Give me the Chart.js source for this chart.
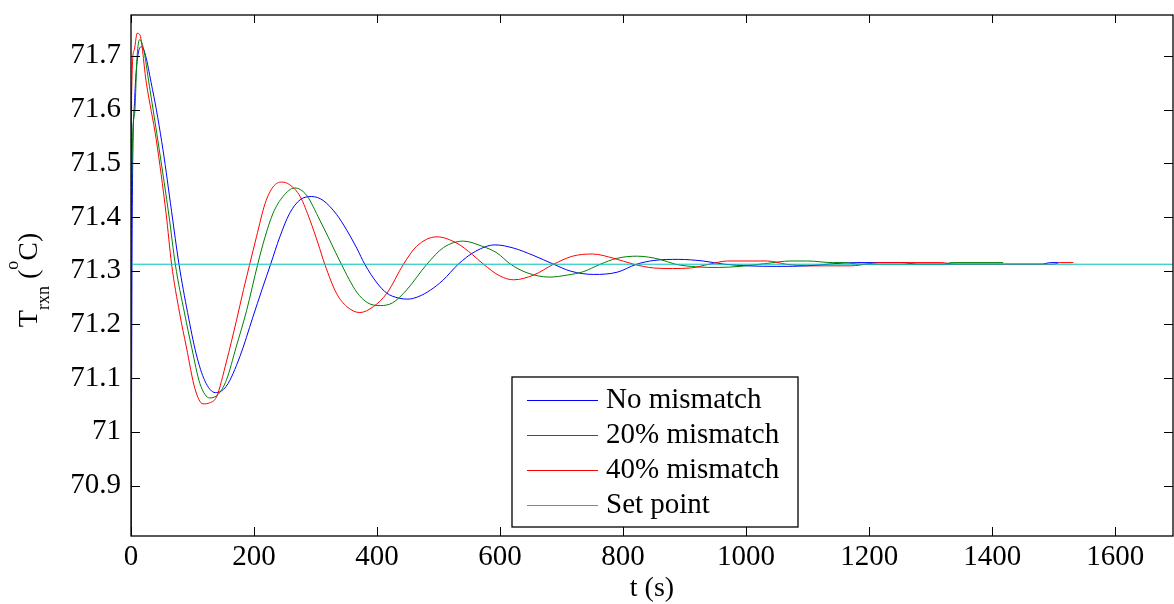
<!DOCTYPE html>
<html lang="en">
<head>
<meta charset="UTF-8" />
<title>Trxn response</title>
<script src="https://cdn.jsdelivr.net/npm/chart.js@4"></script>
<style>
  html, body { margin: 0; padding: 0; background: #fff; }
  canvas { display: block; }
</style>
</head>
<body>
<canvas id="myChart" width="1174" height="604"></canvas>
<script>
const seriesLabels = ["No mismatch", "20% mismatch", "40% mismatch", "Set point"];
const seriesColors = ["#0000ff", "#008000", "#ff0000", "#00bfbf"];
const xTicks = [0, 200, 400, 600, 800, 1000, 1200, 1400, 1600];
const yTicks = [70.9, 71, 71.1, 71.2, 71.3, 71.4, 71.5, 71.6, 71.7];
const yTickLabels = ["70.9", "71", "71.1", "71.2", "71.3", "71.4", "71.5", "71.6", "71.7"];
const setPoint = 71.312;
const setPointSpan = [0, 1700];

// [t (s), T_rxn (C)]
const noMismatch = [
  [0, 70.70], [2, 71.40], [6, 71.62], [10, 71.69], [17, 71.717], [35, 71.637], [52, 71.525],
  [66, 71.41], [78, 71.312], [92, 71.222], [106, 71.145], [120, 71.095], [137, 71.073],
  [155, 71.085], [177, 71.14], [198, 71.213], [213, 71.265], [227, 71.312], [242, 71.363],
  [258, 71.407], [275, 71.432], [294, 71.438], [312, 71.431], [334, 71.405], [351, 71.375],
  [367, 71.342], [380, 71.312], [400, 71.277], [416, 71.258], [435, 71.249], [450, 71.247],
  [468, 71.252], [487, 71.264], [507, 71.282], [532, 71.312], [560, 71.336], [592, 71.348],
  [622, 71.342], [655, 71.328], [687, 71.312], [715, 71.299], [752, 71.293], [790, 71.297],
  [822, 71.312], [850, 71.319], [890, 71.321], [930, 71.318], [965, 71.312], [1003, 71.309],
  [1050, 71.308], [1100, 71.309], [1143, 71.313], [1180, 71.315], [1252, 71.315],
  [1280, 71.312], [1480, 71.312], [1495, 71.315], [1508, 71.315]
];
const mismatch20 = [
  [0, 70.70], [1, 71.45], [5.7, 71.59], [10, 71.70], [14, 71.73], [20, 71.715], [30, 71.643],
  [46, 71.525], [62, 71.40], [72, 71.312], [87, 71.221], [99, 71.155], [112, 71.09],
  [128, 71.063], [142, 71.07], [155, 71.096], [171, 71.158], [188, 71.226], [206, 71.312],
  [218, 71.363], [231, 71.407], [247, 71.438], [266, 71.454], [285, 71.441], [307, 71.394],
  [323, 71.357], [342, 71.312], [367, 71.26], [385, 71.24], [405, 71.235], [425, 71.24],
  [448, 71.264], [481, 71.312], [508, 71.343], [540, 71.355], [572, 71.345], [595, 71.333],
  [617, 71.312], [644, 71.296], [680, 71.288], [710, 71.292], [735, 71.298], [763, 71.312],
  [790, 71.323], [823, 71.327], [860, 71.321], [885, 71.312], [920, 71.307], [955, 71.306],
  [990, 71.308], [1030, 71.313], [1073, 71.318], [1100, 71.318], [1140, 71.315],
  [1160, 71.315], [1185, 71.312], [1320, 71.312], [1335, 71.315], [1418, 71.315]
];
const mismatch40 = [
  [0, 70.70], [1, 71.627], [5, 71.71], [10, 71.742], [14, 71.74], [25, 71.649], [41, 71.544],
  [57, 71.407], [66, 71.312], [79, 71.221], [90, 71.158], [104, 71.08], [117, 71.052],
  [128, 71.054], [139, 71.065], [155, 71.13], [171, 71.205], [183, 71.265], [193, 71.312],
  [204, 71.363], [218, 71.425], [231, 71.456], [245, 71.465], [258, 71.46], [275, 71.438],
  [291, 71.394], [304, 71.351], [315, 71.312], [334, 71.258], [351, 71.233], [372, 71.222],
  [394, 71.233], [416, 71.258], [443, 71.312], [464, 71.345], [497, 71.363], [530, 71.351],
  [555, 71.33], [573, 71.312], [600, 71.29], [622, 71.283], [655, 71.292], [687, 71.312],
  [718, 71.327], [750, 71.331], [785, 71.323], [817, 71.312], [850, 71.305], [880, 71.304],
  [910, 71.305], [940, 71.312], [970, 71.318], [1035, 71.318], [1065, 71.312],
  [1105, 71.309], [1170, 71.309], [1200, 71.313], [1216, 71.315], [1317, 71.315],
  [1340, 71.312], [1500, 71.312], [1510, 71.315], [1532, 71.315]
];

const FONT = "'Liberation Serif', 'Times New Roman', serif";
const toXY = (arr) => arr.map(([t, v]) => ({ x: t, y: v }));
const noPad = (s) => { s.paddingTop = 0; s.paddingBottom = 0; s.paddingLeft = 0; s.paddingRight = 0; };

const framePlugin = {
  id: "frame",
  afterDraw(chart) {
    const { ctx, chartArea: a, scales } = chart;
    ctx.save();
    ctx.strokeStyle = "#000";
    ctx.lineWidth = 1.3;
    ctx.strokeRect(a.left, a.top, a.right - a.left, a.bottom - a.top);

    // MATLAB style inward ticks on every side
    ctx.lineWidth = 1;
    ctx.beginPath();
    xTicks.forEach((v) => {
      const px = Math.round(scales.x.getPixelForValue(v)) + 0.5;
      ctx.moveTo(px, a.bottom); ctx.lineTo(px, a.bottom - 9);
      ctx.moveTo(px, a.top); ctx.lineTo(px, a.top + 8);
    });
    yTicks.forEach((v) => {
      const py = Math.round(scales.y.getPixelForValue(v)) + 0.5;
      ctx.moveTo(a.left, py); ctx.lineTo(a.left + 9, py);
      ctx.moveTo(a.right, py); ctx.lineTo(a.right - 9, py);
    });
    ctx.stroke();

    // x title
    ctx.fillStyle = "#000";
    ctx.font = "28px " + FONT;
    ctx.textAlign = "center";
    ctx.textBaseline = "alphabetic";
    ctx.fillText("t (s)", (a.left + a.right) / 2, 596);

    // y title: T_rxn (^oC)
    const big = "28px " + FONT, small = "18px " + FONT;
    const parts = [
      { t: "T", f: big, dy: 0 },
      { t: "rxn", f: small, dy: 12 },
      { t: " (", f: big, dy: 0 },
      { t: "o", f: small, dy: -19 },
      { t: "C)", f: big, dy: 0 }
    ];
    let total = 0;
    parts.forEach((p) => { ctx.font = p.f; p.w = ctx.measureText(p.t).width; total += p.w; });
    ctx.translate(37, 280);
    ctx.rotate(-Math.PI / 2);
    ctx.textAlign = "left";
    let cx = -total / 2;
    parts.forEach((p) => { ctx.font = p.f; ctx.fillText(p.t, cx, p.dy); cx += p.w; });
    ctx.setTransform(1, 0, 0, 1, 0, 0);

    // legend box
    const bx = 512, by = 377, bw = 286, bh = 150;
    ctx.fillStyle = "#fff";
    ctx.fillRect(bx, by, bw, bh);
    ctx.strokeStyle = "#000";
    ctx.lineWidth = 1.3;
    ctx.strokeRect(bx, by, bw, bh);
    ctx.font = "29px " + FONT;
    ctx.textBaseline = "middle";
    ctx.textAlign = "left";
    chart.data.datasets.forEach((ds, i) => {
      const ry = by + 22.5 + i * 35;
      ctx.strokeStyle = ds.borderColor;
      ctx.lineWidth = 1;
      ctx.beginPath();
      ctx.moveTo(527, Math.round(ry) + 0.5);
      ctx.lineTo(598, Math.round(ry) + 0.5);
      ctx.stroke();
      ctx.fillStyle = "#000";
      ctx.fillText(ds.label, 606, ry + 1);
    });
    ctx.restore();
  }
};

const datasets = [
  { label: seriesLabels[0], data: toXY(noMismatch), borderColor: seriesColors[0], order: 4 },
  { label: seriesLabels[1], data: toXY(mismatch20), borderColor: seriesColors[1], order: 3 },
  { label: seriesLabels[2], data: toXY(mismatch40), borderColor: seriesColors[2], order: 2 },
  {
    label: seriesLabels[3],
    data: setPointSpan.map((t) => ({ x: t, y: setPoint })),
    borderColor: seriesColors[3],
    order: 1
  }
];

const myChart = new Chart(document.getElementById("myChart").getContext("2d"), {
  type: "line",
  data: { datasets: datasets },
  options: {
    responsive: false,
    animation: false,
    layout: { padding: { top: 15, right: 1, bottom: 0, left: 0 } },
    plugins: { legend: { display: false }, tooltip: { enabled: false } },
    elements: {
      point: { radius: 0 },
      line: { borderWidth: 1, cubicInterpolationMode: "monotone", fill: false }
    },
    scales: {
      x: {
        type: "linear",
        min: 0,
        max: 1694,
        grid: { display: false, drawTicks: false },
        border: { display: false },
        afterBuildTicks: (s) => { s.ticks = xTicks.map((v) => ({ value: v })); },
        afterFit: (s) => { s.height = 68; noPad(s); },
        ticks: {
          padding: 4,
          color: "#000",
          maxRotation: 0,
          autoSkip: false,
          font: { family: FONT, size: 29 },
          callback: (v) => String(v)
        }
      },
      y: {
        type: "linear",
        min: 70.806,
        max: 71.776,
        grid: { display: false, drawTicks: false },
        border: { display: false },
        afterBuildTicks: (s) => { s.ticks = yTicks.map((v) => ({ value: v })); },
        afterFit: (s) => { s.width = 131; noPad(s); },
        ticks: {
          padding: 10,
          color: "#000",
          autoSkip: false,
          font: { family: FONT, size: 29 },
          callback: (v, i) => yTickLabels[i]
        }
      }
    }
  },
  plugins: [framePlugin]
});
</script>
</body>
</html>
